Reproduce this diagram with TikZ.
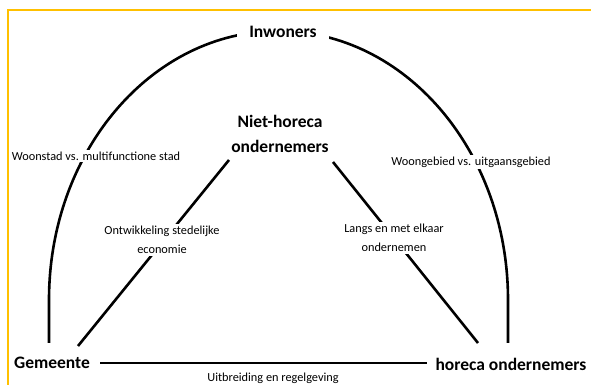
\documentclass[tikz,border=0pt]{standalone}
\usepackage{fontspec}
\setmainfont{Carlito}
\usetikzlibrary{backgrounds}
\definecolor{framegold}{HTML}{FFC000}
\tikzset{
  mainlbl/.style={font=\fontsize{17.5}{25}\selectfont\bfseries, align=center, inner sep=1pt, fill=white},
  smalllbl/.style={font=\fontsize{12.3}{18.5}\selectfont, align=center, inner sep=2pt, fill=white},
  conn/.style={line width=2.6pt, black},
  framestyle/.style={line width=1.5pt, framegold}
}
\begin{document}
\begin{tikzpicture}[x=1pt,y=1pt]
\useasboundingbox (0,0) rectangle (591,385);
% main nodes
\node[mainlbl, inner xsep=12pt, inner ysep=5pt] (inw) at (283,353) {Inwoners};
\node[mainlbl] (niet) at (280,251) {Niet-horeca\\ondernemers};
\node[mainlbl] (gem) at (52,22) {Gemeente};
\node[mainlbl] (hor) at (511,21) {horeca ondernemers};
% edge labels
\node[smalllbl] (woon) at (96,229) {Woonstad vs. multifunctione stad};
\node[smalllbl] (woong) at (471,223) {Woongebied vs. uitgaansgebied};
\node[smalllbl] (ontw) at (162,145) {Ontwikkeling stedelijke\\economie};
\node[smalllbl] (langs) at (394,147) {Langs en met elkaar\\ondernemen};
\node[smalllbl, fill=none] (uitb) at (273,7) {Uitbreiding en regelgeving};
% connector end points
\coordinate (gemArc) at (49,42);
\coordinate (horArc) at (508,42);
\coordinate (gemDiag) at (78,39);
\coordinate (nietL) at (229,225);
\coordinate (nietR) at (333,223);
\coordinate (horDiag) at (478,42);
\coordinate (gemH) at (100,22);
\coordinate (horH) at (427,22);
\begin{scope}[on background layer]
  \draw[framestyle] (8,0) -- (8,375) -- (591,375);
  \draw[conn] (gemArc) -- (49,85) arc[start angle=180, end angle=0, x radius=229.5, y radius=269] -- (horArc);
  \draw[conn] (gemDiag) -- (nietL);
  \draw[conn] (nietR) -- (horDiag);
  \draw[conn] (gemH) -- (horH);
\end{scope}
\end{tikzpicture}
\end{document}
